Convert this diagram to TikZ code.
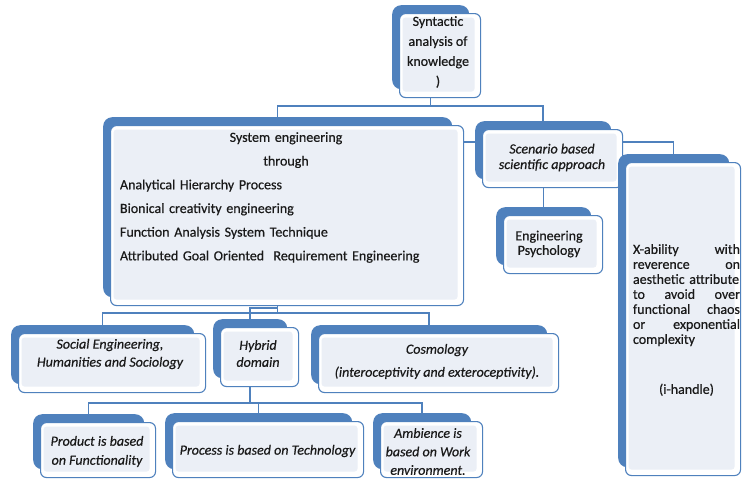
\documentclass[tikz,border=0pt]{standalone}
\usepackage{fontspec}
\setmainfont{Carlito}[FakeBold=0.5]
\usetikzlibrary{calc}
\definecolor{sblue}{HTML}{4F81BD}
\definecolor{sfill}{HTML}{EBEFF6}
\definecolor{stext}{HTML}{1A1A1A}
\pgfdeclarelayer{bg}
\pgfsetlayers{bg,main}
\tikzset{
  backbox/.style={fill=sblue, draw=none, rounded corners=9pt, inner sep=0pt, anchor=north west},
  frontbox/.style={fill=white, draw=sblue, line width=1.1pt, rounded corners=6pt, inner sep=0pt, anchor=north west,
    path picture={\fill[sfill, rounded corners=3pt]
      ($(path picture bounding box.south west)+(3pt,6pt)$) rectangle
      ($(path picture bounding box.north east)+(-6pt,-4pt)$);}},
  txt/.style={text=stext, align=center, inner sep=0pt},
  itxt/.style={txt, font=\itshape},
  conn/.style={draw=sblue, line width=1.5pt},
}
% name, x1, y1, x2, y2
\newcommand\mkbox[5]{%
  \node[backbox, minimum width={(#4-#2-4)*1pt}, minimum height={(#5-#3)*1pt}] (#1B) at (#2-7,#3-8) {};
  \node[frontbox, minimum width={(#4-#2)*1pt}, minimum height={(#5-#3)*1pt}] (#1) at (#2,#3) {};
}
\begin{document}
\begin{tikzpicture}[x=1pt,y=-1pt]
\useasboundingbox (0,0) rectangle (742,483);
\begin{pgfonlayer}{bg}
\fill[white] (0,0) rectangle (742,483);
\end{pgfonlayer}
\clip (0,0) rectangle (742,483);

% boxes
\mkbox{syn}{399}{13}{480}{97}
\mkbox{sys}{110}{125}{463}{305}
\mkbox{scen}{482}{129}{622}{187}
\mkbox{eng}{503}{215}{602}{273}
\mkbox{ih}{625}{162}{740}{475}
\mkbox{soc}{18}{333}{205}{392}
\mkbox{hyb}{220}{327}{298}{386}
\mkbox{cos}{318}{333}{558}{392}
\mkbox{prod}{40}{422}{155}{477}
\mkbox{proc}{172}{421}{363}{477}
\mkbox{amb}{380}{421}{482}{477}

% texts
\node[txt, font=\fontsize{14}{20}\selectfont] (synT) at (438,52) {Syntactic\\analysis of\\knowledge\\)};
\node[txt, align=left, text width=332pt, font=\fontsize{14}{23.7}\selectfont] (sysT) at (286,197.5)
  {\makebox[332pt]{System engineering}\\\makebox[332pt]{through}\\Analytical Hierarchy Process\\Bionical creativity engineering\\Function Analysis System Technique\\Attributed Goal Oriented\ \ Requirement Engineering};
\node[itxt, font=\itshape\fontsize{14}{15.5}\selectfont] (scenT) at (552,157.5) {Scenario based\\scientific approach};
\node[txt, font=\fontsize{14}{14.5}\selectfont] (engT) at (549,244) {Engineering\\Psychology};
\node[txt, align=left, text width=107pt, font=\fontsize{14}{15}\selectfont] (ihT) at (686.5,320)
  {X-ability\hfill with\\reverence\hfill on\\aesthetic attribute\\to\hfill avoid\hfill over\\functional\hfill chaos\\or\hfill exponential\\complexity\\[35pt]\makebox[107pt]{(i-handle)}};
\node[itxt, font=\itshape\fontsize{14}{18}\selectfont] (socT) at (110,354) {Social Engineering,\\Humanities and Sociology};
\node[itxt, font=\itshape\fontsize{14}{17}\selectfont] (hybT) at (258,353.5) {Hybrid\\domain};
\node[itxt, font=\itshape\fontsize{14}{23}\selectfont] (cosT) at (437,361.5) {Cosmology\\(interoceptivity and exteroceptivity).};
\node[itxt, font=\itshape\fontsize{14}{19}\selectfont] (prodT) at (97,451.5) {Product is based\\on Functionality};
\node[itxt, font=\itshape\fontsize{14}{18}\selectfont] (procT) at (267.5,451) {Process is based on Technology};
\node[itxt, font=\itshape\fontsize{14}{18.5}\selectfont] (ambT) at (428,451.5) {Ambience is\\based on Work\\environment.};

% connectors
\coordinate (y106) at (0,106);
\coordinate (y142) at (0,142);
\coordinate (y308) at (0,308);
\coordinate (y313) at (0,313);
\coordinate (y403) at (0,403);
\begin{pgfonlayer}{bg}
\draw[conn] (synB.south) -- (synB.south |- y106);
\draw[conn] (sysB.north) -- (sysB.north |- y106) -- (scenB.north |- y106) -- (scenB.north);
\draw[conn] (sys.east |- y142) -- (scenB.west |- y142);
\draw[conn] (scen.east |- y142) -| (ihB.north);
\draw[conn] (scen.south -| engB.north) -- (engB.north);
\draw[conn] (sysB.south) -- (sysB.south |- y308) -| (hybB.north);
\draw[conn] (sysB.south |- y308) -- (sysB.south |- y313);
\draw[conn] (socB.north) -- (socB.north |- y313) -- (cosB.north |- y313) -- (cosB.north);
\draw[conn] (hybB.south) -- (hybB.south |- y403);
\draw[conn] (prodB.north) -- (prodB.north |- y403) -- (ambB.north |- y403) -- (ambB.north);
\draw[conn] (procB.north |- y403) -- (procB.north);
\end{pgfonlayer}
\end{tikzpicture}
\end{document}
